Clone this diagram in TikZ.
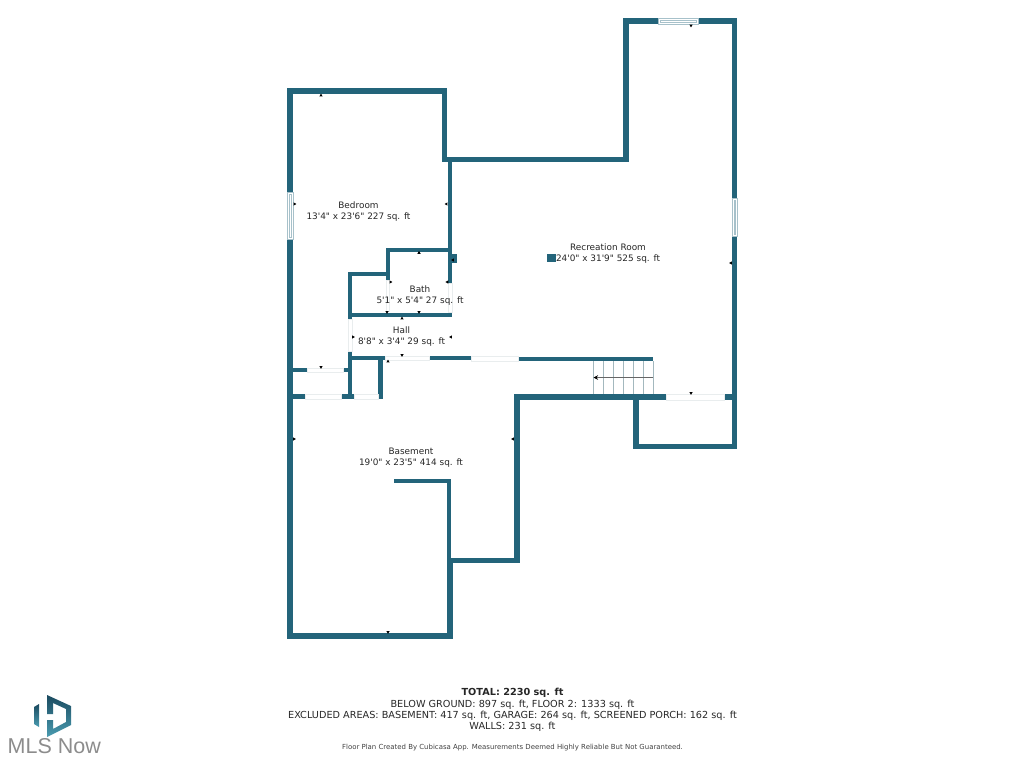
\documentclass[tikz,border=0pt]{standalone}
\usepackage{fontspec}
\setmainfont[Ligatures=TeXOff]{DejaVu Sans}
\newfontfamily\logofont{Liberation Sans}
\usepackage{xcolor}
\usetikzlibrary{positioning,shapes.geometric,arrows.meta}
\definecolor{wallteal}{HTML}{23647A}
\definecolor{gapgrey}{HTML}{E9EDEE}
\definecolor{stairgrey}{HTML}{A3B8BE}
\definecolor{logotop}{HTML}{1B4A5F}
\definecolor{logobottom}{HTML}{4A9CB1}
\definecolor{logotext}{HTML}{8C8C8C}

\begin{document}
\begin{tikzpicture}[
    x=1pt, y=-1pt,
    every node/.style={align=center, inner sep=0pt, text=black!85},
    wall/.style={draw=wallteal, line width=5.6pt, miter limit=10},
    thinwall/.style={draw=wallteal, line width=4pt, miter limit=10},
    doorgap/.style={draw=gapgrey, line width=0.5pt, fill=white},
    windowbox/.style={draw=wallteal!40, line width=0.6pt, fill=white},
    stairline/.style={draw=stairgrey, line width=0.9pt},
    tickmark/.style={regular polygon, regular polygon sides=3, fill=black, minimum size=3.8pt},
    roomlabel/.style={font=\fontsize{8.9}{11}\selectfont},
    totals/.style={font=\fontsize{9.7}{11.3}\selectfont},
    disclaimer/.style={font=\fontsize{6.95}{8}\selectfont, text=black!75}
]
\useasboundingbox (0,0) rectangle (1024,768);

% Outer shell
\draw[wall] (452.5,636) -- (290,636) -- (290,91) -- (444.5,91) -- (444.5,159.5) -- (626,159.5) -- (626,21) -- (734.5,21) -- (734.5,446.5) -- (636,446.5) -- (636,397);
\draw[wall] (449.7,636) -- (449.7,560);
\draw[wall] (447,560.5) -- (517,560.5) -- (517,397) -- (666,397);
\draw[wall] (724,397) -- (732,397);

% Inner walls
\draw[thinwall] (394,481) -- (449,481) -- (449,560);
\draw[thinwall] (450,160) -- (450,283);
\draw[thinwall] (450,249.5) -- (387.5,249.5) -- (387.5,273.5) -- (350,273.5) -- (350,319);
\draw[thinwall] (350,315) -- (452,315);
\draw[thinwall] (387.5,280) -- (387.5,273);
\draw[thinwall] (350,351) -- (350,399);
\draw[thinwall] (348,358) -- (385,358);
\draw[thinwall] (429,358) -- (471,358);
\draw[thinwall] (518,358.5) -- (653,358.5);
\draw[wall, line width=4.6pt] (380.5,356) -- (380.5,399);

% Closet stubs
\draw[thinwall] (293,370) -- (307,370);
\draw[thinwall] (343,370) -- (350,370);
\draw[wall, line width=4.6pt] (293,396.5) -- (305,396.5);
\draw[wall, line width=4.6pt] (341,396.5) -- (354,396.5);
\draw[wall, line width=4.6pt] (378,396.5) -- (383,396.5);

% Door openings
\draw[doorgap] (386,280) rectangle (389,311);
\draw[doorgap] (448,283) rectangle (452,312);
\draw[doorgap] (348,319) rectangle (352,351);
\draw[doorgap] (385,356) rectangle (429,360);
\draw[doorgap] (471,356) rectangle (518,361);
\draw[doorgap] (307,368) rectangle (343,372);
\draw[doorgap] (305,394) rectangle (341,399);
\draw[doorgap] (354,394) rectangle (378,399);
\draw[doorgap] (666,394) rectangle (724,400);

% Windows
\draw[windowbox] (658,18) rectangle (698,24);
\draw[windowbox] (660,20) rectangle (696,22);
\draw[windowbox] (287,192) rectangle (293,239);
\draw[windowbox] (289,194) rectangle (291,237);
\draw[windowbox] (732,198) rectangle (737.4,236);
\draw[windowbox] (734,200) rectangle (735.6,234);

% Stairs
\foreach \stepx in {593,603,...,653} {
    \draw[stairline] (\stepx,361) -- (\stepx,394);
}
\coordinate (stairtop) at (653,377.5);
\coordinate (stairend) at (593.5,377.5);
\draw[draw=black!60, line width=0.5pt, -{Stealth[length=4.5pt,width=4.5pt,black]}] (stairtop) -- (stairend);

% Column and wall bump
\fill[wallteal] (452,254) rectangle (457,263);
\fill[wallteal] (547,254) rectangle (556,262);

% Dimension marks
\node[tickmark, rotate=0] (markbedtop) at (321,95.5) {};
\node[tickmark, rotate=-90] (markbedleft) at (294.5,204) {};
\node[tickmark, rotate=90] (markbedright) at (446.5,204) {};
\node[tickmark, rotate=180] (markrectop) at (691,25.5) {};
\node[tickmark, rotate=90] (markrecright) at (731,263) {};
\node[tickmark, rotate=90] (markbump) at (453,260) {};
\node[tickmark, rotate=0] (markbathtop) at (419,252.8) {};
\node[tickmark, rotate=-90] (markbathleft) at (390.5,282) {};
\node[tickmark, rotate=90] (markbathright) at (447.3,282) {};
\node[tickmark, rotate=180] (markbathlow) at (419,312) {};
\node[tickmark, rotate=180] (markbathlowb) at (387,312) {};
\node[tickmark, rotate=0] (markhalltop) at (402,318.5) {};
\node[tickmark, rotate=-90] (markhallleft) at (353,337) {};
\node[tickmark, rotate=90] (markhallright) at (451,337) {};
\node[tickmark, rotate=180] (markhalllow) at (402,355) {};
\node[tickmark, rotate=0] (markbaseup) at (388,361.5) {};
\node[tickmark, rotate=180] (markcloset) at (321,367) {};
\node[tickmark, rotate=180] (markporch) at (691,393) {};
\node[tickmark, rotate=-90] (markbaseleft) at (294,439) {};
\node[tickmark, rotate=90] (markbaseright) at (513,439) {};
\node[tickmark, rotate=180] (markbaselow) at (388,632) {};

% Room labels
\node[roomlabel] (bedroom) at (358.5,211.5) {Bedroom\\13'4" x 23'6" 227 sq. ft};
\node[roomlabel] (recroom) at (608,253.5) {Recreation Room\\24'0" x 31'9" 525 sq. ft};
\node[roomlabel] (bath) at (420,295.5) {Bath\\5'1" x 5'4" 27 sq. ft};
\node[roomlabel] (hall) at (401.5,336.5) {Hall\\8'8" x 3'4" 29 sq. ft};
\node[roomlabel] (basement) at (411,457.5) {Basement\\19'0" x 23'5" 414 sq. ft};

% Totals
\node[totals] (totalblock) at (512.5,710) {\textbf{TOTAL: 2230 sq. ft}\\BELOW GROUND: 897 sq. ft, FLOOR 2: 1333 sq. ft\\EXCLUDED AREAS: BASEMENT: 417 sq. ft, GARAGE: 264 sq. ft, SCREENED PORCH: 162 sq. ft\\WALLS: 231 sq. ft};
\node[disclaimer] (madeby) at (512.5,747.5) {Floor Plan Created By Cubicasa App. Measurements Deemed Highly Reliable But Not Guaranteed.};

% Logo
\shade[top color=logotop, bottom color=logobottom] (47,695) -- (71,706) -- (71,725) -- (47,737) -- (47,720) -- (53,720) -- (53,729) -- (66,722) -- (66,709) -- (53,703) -- (53,714) -- (47,714) -- cycle;
\shade[top color=logotop, bottom color=logobottom] (34,707) -- (39,704) -- (39,727) -- (34,724) -- cycle;
\node[font=\logofont\fontsize{21.5}{21.5}\selectfont, text=logotext, anchor=west] (logoname) at (7.5,746.5) {MLS Now};

\end{tikzpicture}
\end{document}
